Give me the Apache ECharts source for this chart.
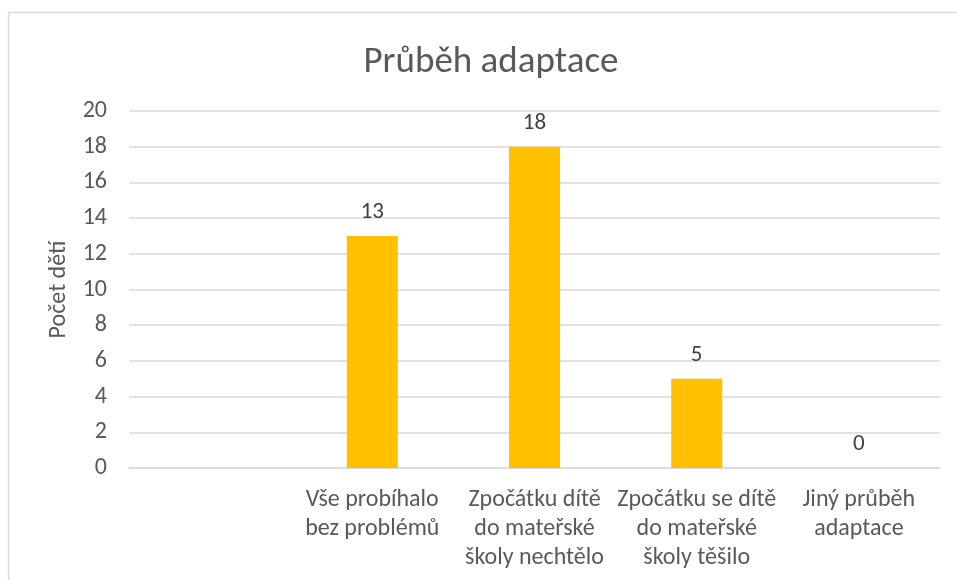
<!DOCTYPE html>
<html><head><meta charset="utf-8">
<script src="https://cdn.jsdelivr.net/npm/echarts@6/dist/echarts.min.js"></script>
<style>html,body{margin:0;padding:0;background:#fff}#c{width:957px;height:580px}</style>
</head><body><div id="c"></div>
<script>
const title = 'Průběh adaptace';
const yAxisName = 'Počet dětí';
const categories = ['', 'Vše probíhalo\nbez problémů', 'Zpočátku dítě\ndo mateřské\nškoly nechtělo', 'Zpočátku se dítě\ndo mateřské\nškoly těšilo', 'Jiný průběh\nadaptace'];
const values = [null, 13, 18, 5, 0];
const yTicks = {min: 0, max: 20, interval: 2};

const font = "Carlito, 'Open Sans', sans-serif";
const chart = echarts.init(document.getElementById('c'), null, {renderer: 'canvas'});
chart.setOption({
  animation: false,
  backgroundColor: '#fff',
  title: {text: title, left: 486, top: 39, textAlign: 'center',
    textStyle: {fontFamily: font, fontSize: 37, fontWeight: 'normal', color: '#595959'}},
  graphic: [{type: 'rect', shape: {x: 8.5, y: 12.5, width: 1000, height: 1000},
    style: {fill: 'none', stroke: '#d9d9d9', lineWidth: 1.5}, silent: true}],
  grid: {left: 129, right: 17, top: 111, bottom: 112, containLabel: false},
  xAxis: {type: 'category', data: categories,
    axisLine: {show: true, lineStyle: {color: '#d9d9d9', width: 1.5}},
    axisTick: {show: false},
    axisLabel: {interval: 0, color: '#595959', fontFamily: font, fontSize: 24, lineHeight: 29, margin: 17}},
  yAxis: {type: 'value', min: yTicks.min, max: yTicks.max, interval: yTicks.interval,
    name: yAxisName, nameLocation: 'middle', nameGap: 58, nameRotate: 90,
    nameTextStyle: {fontFamily: font, fontSize: 24, color: '#595959'},
    axisLine: {show: false}, axisTick: {show: false},
    axisLabel: {color: '#595959', fontFamily: font, fontSize: 24, margin: 22},
    splitLine: {lineStyle: {color: '#d9d9d9', width: 1.5}}},
  series: [{type: 'bar', data: values, barWidth: 51,
    itemStyle: {color: '#FFC000'},
    label: {show: true, position: 'top', distance: 12, color: '#404040', fontFamily: font, fontSize: 23}}]
});
</script></body></html>
